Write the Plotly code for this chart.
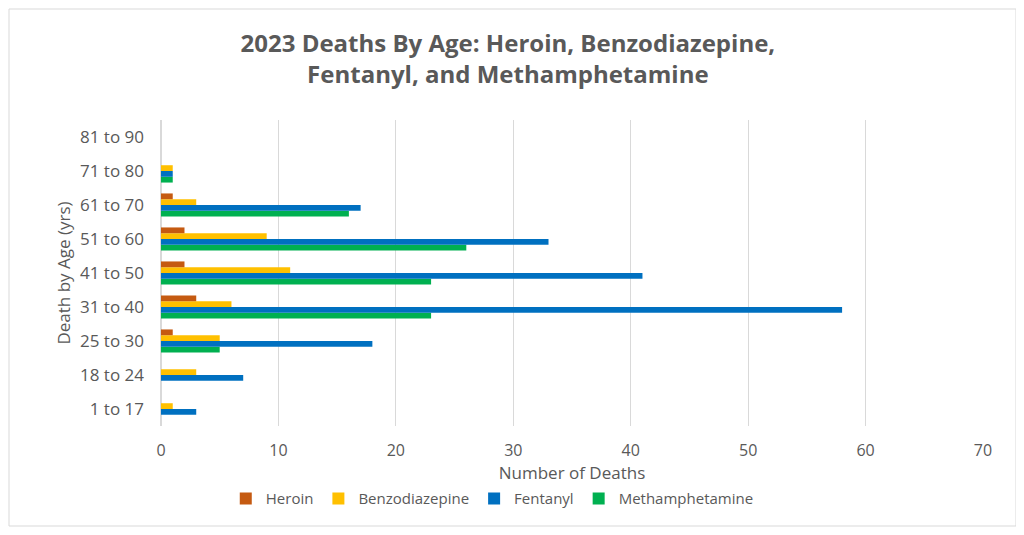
from plotly import graph_objects

ages = ['1 to 17', '18 to 24', '25 to 30', '31 to 40', '41 to 50',
        '51 to 60', '61 to 70', '71 to 80', '81 to 90']
heroin = [0, 0, 1, 3, 2, 2, 1, 0, 0]
benzodiazepine = [1, 3, 5, 6, 11, 9, 3, 1, 0]
fentanyl = [3, 7, 18, 58, 41, 33, 17, 1, 0]
methamphetamine = [0, 0, 5, 23, 23, 26, 16, 1, 0]

series = [
    ('Heroin', heroin, '#C55A11'),
    ('Benzodiazepine', benzodiazepine, '#FFC000'),
    ('Fentanyl', fentanyl, '#0070C0'),
    ('Methamphetamine', methamphetamine, '#00B050'),
]

fig = graph_objects.Figure()
# plotly stacks horizontal groups bottom-up, so add in reverse for Heroin on top
for rank, (name, values, color) in reversed(list(enumerate(series))):
    fig.add_trace(graph_objects.Bar(
        y=ages, x=values, name=name, orientation='h',
        marker=dict(color=color, line=dict(width=0)),
        legendrank=rank + 1,
    ))

grey = '#595959'
font = 'Open Sans'
# page body has an 8px margin, so the figure is 8px smaller than the window
fig.update_layout(
    width=1016, height=527,
    font=dict(family=font, color=grey, size=16),
    paper_bgcolor='white', plot_bgcolor='white',
    barmode='group', bargap=0.32, bargroupgap=0,
    margin=dict(l=153, r=41, t=112, b=109),
    title=dict(
        text='<b>2023 Deaths By Age: Heroin, Benzodiazepine,<br>Fentanyl, and Methamphetamine</b>',
        x=0.492, xanchor='center', y=0.917, yanchor='middle',
        font=dict(size=24, color=grey),
    ),
    legend=dict(
        orientation='h', x=0.403, xanchor='center', y=-0.238, yanchor='middle',
        font=dict(size=15, color=grey), itemwidth=30,
    ),
    showlegend=True,
)
fig.update_xaxes(
    range=[0, 70], dtick=10, showgrid=True, gridcolor='#D9D9D9', gridwidth=1,
    zeroline=True, zerolinecolor='#D9D9D9', showline=False,
    ticklabelstandoff=13,
    tickfont=dict(size=16, color=grey),
    title=dict(text='Number of Deaths', font=dict(size=17, color=grey), standoff=0),
)
fig.update_yaxes(
    showgrid=False, showline=False, ticks='', ticklabelstandoff=16,
    tickfont=dict(size=17, color=grey),
    title=dict(text='Death by Age (yrs)', font=dict(size=17, color=grey), standoff=5),
)
fig.add_shape(
    type='rect', xref='paper', yref='paper',
    x0=(1 - 153) / 822, x1=(1008 - 153) / 822,
    y0=(418 - 518) / 306, y1=(418 - 1) / 306,
    line=dict(color='#D9D9D9', width=1), fillcolor='rgba(0,0,0,0)', layer='below',
)

fig.write_html('out.html')
